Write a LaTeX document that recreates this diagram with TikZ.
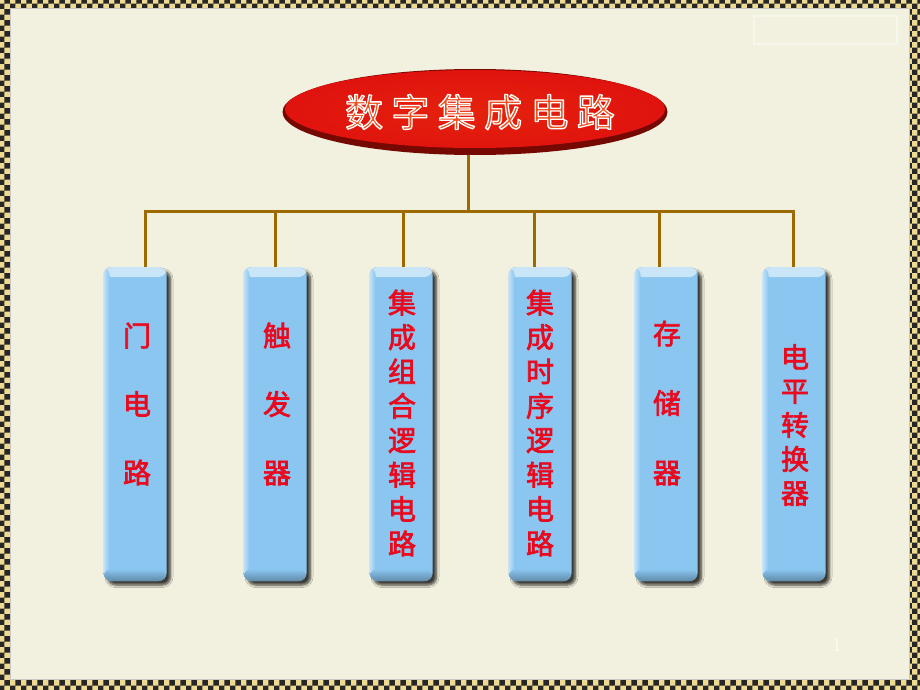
\documentclass[tikz,border=0pt]{standalone}
\usepackage{fontspec}
\usepackage{xcolor}
\usetikzlibrary{shapes.geometric,patterns,shadows.blur}
\newfontfamily\cjk{Noto Sans CJK SC}[FakeBold=2.4]
\newfontfamily\cjkwide{Noto Sans CJK SC}[LetterSpace=22]

\definecolor{framegold}{RGB}{238,218,146}
\definecolor{paper}{RGB}{242,240,222}
\definecolor{linebrown}{RGB}{156,106,0}
\definecolor{ovalred}{RGB}{224,18,14}
\definecolor{ovaldark}{RGB}{118,8,2}
\definecolor{titleorange}{RGB}{240,80,30}
\definecolor{boxblue}{RGB}{138,198,240}
\definecolor{textred}{RGB}{232,10,30}

\newcommand{\glowon}[1]{\special{pdf:literal direct 2 Tr #1 w 1 j 1 1 1 RG}}
\newcommand{\glowoff}{\special{pdf:literal direct 0 Tr}}

\begin{document}
\begin{tikzpicture}[x=1pt, y=-1pt,
    wire/.style={draw=linebrown, line width=3pt, line join=miter},
    oval/.style={ellipse, minimum width=385pt, minimum height=86pt, inner sep=0pt, fill=ovaldark,
      path picture={\shade[inner color=ovalred!85!orange, outer color=ovalred]
        ([yshift=3pt]path picture bounding box.center) ellipse [x radius=190pt, y radius=39pt];}},
    titletext/.style={text=titleorange, font=\cjkwide\fontsize{38}{38}\selectfont, inner sep=0pt},
    box/.style={rectangle, rounded corners=8pt, fill=boxblue, minimum width=63pt, minimum height=314pt, inner sep=0pt,
      blur shadow={shadow xshift=4pt, shadow yshift=-4pt, shadow blur steps=6, shadow blur radius=2.5pt, shadow opacity=75},
      path picture={
        \shade[top color=white!55!boxblue, bottom color=boxblue]
          (path picture bounding box.north west) rectangle ([yshift=-10pt]path picture bounding box.north east);
        \shade[left color=white!50!boxblue, right color=boxblue]
          (path picture bounding box.north west) rectangle ([xshift=6pt]path picture bounding box.south west);
        \shade[top color=boxblue, bottom color=boxblue!70!black]
          ([yshift=12pt]path picture bounding box.south west) rectangle (path picture bounding box.south east);}},
    boxtext/.style={text=textred, align=center, inner sep=0pt}]

  \useasboundingbox (0,0) rectangle (920,690);
  \fill[framegold] (0,0) rectangle (920,690);
  \fill[pattern=checkerboard, pattern color=black!85] (0,0) rectangle (920,690);
  \fill[paper] (10,9) rectangle (909,679);
  \draw[black!22, line width=1pt] (10,9) rectangle (909,679);
  \draw[white, opacity=.4, line width=2pt] (754,16) rectangle (897,44);

  \node[oval] (title) at (475,112) {};
  \node[titletext] (titlelabel) at (480,112) {\glowon{1.3}数字集成电路\glowoff};

  \coordinate (busL) at (145,211);
  \coordinate (busR) at (793,211);

  \node[box] (box1) at (135,424) {};
  \node[box] (box2) at (275,424) {};
  \node[box] (box3) at (401,424) {};
  \node[box] (box4) at (540,424) {};
  \node[box] (box5) at (666,424) {};
  \node[box] (box6) at (794,424) {};

  \draw[wire] ([xshift=-7pt]title.south) -- ([xshift=-7pt]title.south |- busL);
  \draw[wire] ([xshift=10pt]box1.north) -- (busL) -- (busR) -- ([xshift=-1pt]box6.north);
  \foreach \b/\dx in {box2/0, box3/2, box4/-6, box5/-7}
    \draw[wire] ([xshift=\dx pt]\b.north) -- ([xshift=\dx pt]\b.north |- busL);

  \node[boxtext, font=\cjk\fontsize{28}{68.5}\selectfont] (label1) at (137,404) {门\\电\\路};
  \node[boxtext, font=\cjk\fontsize{28}{68.5}\selectfont] (label2) at (277,404) {触\\发\\器};
  \node[boxtext, font=\cjk\fontsize{28}{34.4}\selectfont] (label3) at (402,423) {集\\成\\组\\合\\逻\\辑\\电\\路};
  \node[boxtext, font=\cjk\fontsize{28}{34.4}\selectfont] (label4) at (540,423) {集\\成\\时\\序\\逻\\辑\\电\\路};
  \node[boxtext, font=\cjk\fontsize{28}{69.5}\selectfont] (label5) at (667,403) {存\\储\\器};
  \node[boxtext, font=\cjk\fontsize{28}{34}\selectfont] (label6) at (795,425) {电\\平\\转\\换\\器};

  \node[text=white, font=\fontsize{20}{20}\selectfont, inner sep=0pt] (pagenum) at (837,645) {1};
\end{tikzpicture}
\end{document}
